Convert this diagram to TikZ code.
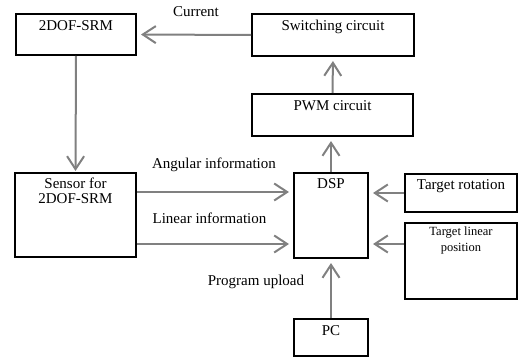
\documentclass[tikz,border=0pt]{standalone}
\usepackage{fontspec}
\setmainfont{Liberation Serif}
\usetikzlibrary{arrows.meta}

\tikzset{
	block/.style={draw, line width=2pt, inner sep=0pt},
	intext/.style={anchor=north, inner sep=0pt, yshift=-7pt, align=center, font=\fontsize{15}{15}\selectfont},
	flow/.style={draw=gray, line width=2pt, -{Straight Barb[length=13pt, width=17pt, line width=2pt]}, shorten >=4pt},
	tag/.style={inner sep=0pt, font=\fontsize{15}{15}\selectfont}
}

\begin{document}
\begin{tikzpicture}[x=1pt, y=-1pt]
		\useasboundingbox (0,0) rectangle (519,358);

		% Draw the blocks
		\node[block, minimum width=120pt, minimum height=41pt, label={[intext]north:2DOF-SRM}] (srm) at (76,34.5) {};
		\node[block, minimum width=162pt, minimum height=42pt, label={[intext]north:Switching circuit}] (switch) at (333,35) {};
		\node[block, minimum width=161pt, minimum height=42pt, label={[intext]north:PWM circuit}] (pwm) at (332.5,115) {};
		\node[block, minimum width=121pt, minimum height=84pt, label={[intext, yshift=1pt]north:Sensor for\\2DOF-SRM}] (sensor) at (75.5,215) {};
		\node[block, minimum width=74pt, minimum height=85pt, label={[intext, yshift=1pt]north:DSP}] (dsp) at (331,215.5) {};
		\node[block, minimum width=112pt, minimum height=38pt, label={[intext, yshift=1pt]north:Target rotation}] (trot) at (461,193) {};
		\node[block, minimum width=112pt, minimum height=76pt, label={[intext, yshift=2pt, font=\fontsize{12.5}{15.5}\selectfont]north:Target linear\\position}] (tlin) at (461,261) {};
		\node[block, minimum width=74pt, minimum height=37pt, label={[intext]north:PC}] (pc) at (331,337.5) {};

		% Draw the signal labels
		\node[tag] (current) at (196,12) {Current};
		\node[tag] (angular) at (214,165) {Angular information};
		\node[tag] (linear) at (209.5,218) {Linear information};
		\node[tag] (upload) at (256,282) {Program upload};

		% Draw the arrows between the blocks
		\draw[flow] (switch.west) -- (srm.east);
		\draw[flow, shorten >=1pt] (srm.south) -- (sensor.north);
		\draw[flow] (pwm.north) -- (switch.south);
		\draw[flow] (dsp.north) -- (dsp.north |- pwm.south);
		\draw[flow] ([yshift=-20pt]sensor.north east) -- ([yshift=-20pt]dsp.north west);
		\draw[flow] ([yshift=14pt]sensor.south east) -- ([yshift=14pt]sensor.south east -| dsp.west);
		\draw[flow] (trot.west) -- (trot.west -| dsp.east);
		\draw[flow] ([yshift=-22pt]tlin.north west) -- ([yshift=-22pt]tlin.north west -| dsp.east);
		\draw[flow] (pc.north) -- (dsp.south);

	\end{tikzpicture}
\end{document}
